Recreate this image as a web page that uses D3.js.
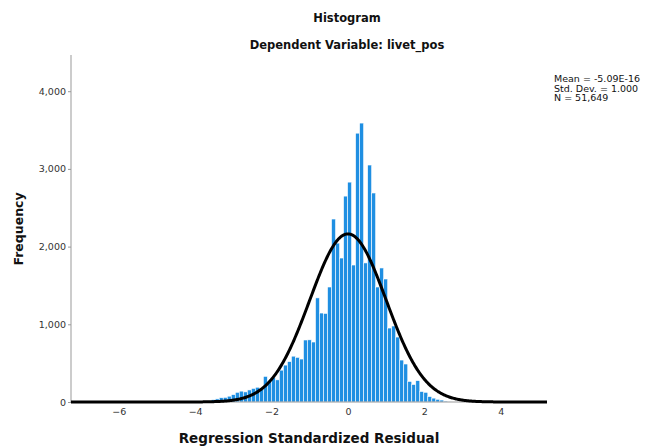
<!DOCTYPE html>
<html><head><meta charset="utf-8">
<script src="https://cdn.jsdelivr.net/npm/d3@7"></script>
<style>body{margin:0;background:#fff}svg{display:block}</style>
</head><body><svg id="c" width="647" height="448"></svg>
<script>
// ---- data ----
const binStart = -3.58;
const binWidth = 0.105;
const counts = [30,40,55,60,75,95,125,140,130,155,175,190,160,330,280,315,285,410,475,520,590,575,553,798,800,772,1340,1145,1140,1480,2355,2045,1853,2650,2830,1763,3460,3590,1790,3050,2690,1480,1725,1583,952,978,836,540,489,265,225,275,135,125,70,50,35,25,12,6];
const xTicks = [-6,-4,-2,0,2,4];
const yTicks = [0,1000,2000,3000,4000];
const fitMean = -5.09e-16, fitSD = 1.0, fitN = 51649;
const legendLines = ["Mean = -5.09E-16","Std. Dev. = 1.000","N = 51,649"];
const titles = ["Histogram","Dependent Variable: livet_pos"];
const xLabel = "Regression Standardized Residual";
const yLabel = "Frequency";

// ---- layout ----
const svg = d3.select("#c");
const L=71,R=547,T=55,B=402;
const x = d3.scaleLinear().domain([-7.25,5.21]).range([L,R]);
const y = d3.scaleLinear().domain([0,4466]).range([B,T]);
const font = "'DejaVu Sans', 'Liberation Sans', sans-serif";

const bins = counts.map((c,i)=>({x0: binStart+i*binWidth, x1: binStart+(i+1)*binWidth, c}));
svg.append("g").selectAll("rect").data(bins).join("rect")
  .attr("x", d=>x(d.x0)).attr("width", d=>x(d.x1)-x(d.x0))
  .attr("y", d=>y(d.c)).attr("height", d=>y(0)-y(d.c))
  .attr("fill","#1f8fe2").attr("stroke","#fff").attr("stroke-width",0.6);

// axes
const yAxis = d3.axisLeft(y).tickValues(yTicks).tickSize(3).tickFormat(d3.format(","));
const gy = svg.append("g").attr("transform",`translate(${L},0)`).call(yAxis);
gy.select(".domain").attr("stroke","#999").attr("d",`M0,${T}V${B}`);
gy.selectAll(".tick line").attr("stroke","#999");
gy.selectAll(".tick text").attr("font-family",font).attr("font-size",9.5).attr("fill","#333").attr("x",-5);

const xAxis = d3.axisBottom(x).tickValues(xTicks).tickSize(0).tickFormat(d3.format("d"));
const gx = svg.append("g").attr("transform",`translate(0,${B})`).call(xAxis);
gx.select(".domain").attr("stroke","#999").attr("d",`M${L},0H${R}`);
gx.selectAll(".tick text").attr("font-family",font).attr("font-size",9.5).attr("fill","#333").attr("dy","1.05em")
  .text(d=> d<0 ? "\u2212"+Math.abs(d) : d);

// normal curve
const pdf = v => Math.exp(-0.5*((v-fitMean)/fitSD)**2)/(fitSD*Math.sqrt(2*Math.PI));
const pts = d3.range(x.domain()[0], x.domain()[1]+0.001, 0.02);
svg.append("path").datum(pts)
  .attr("d", d3.line().x(v=>x(v)).y(v=>y(fitN*binWidth*pdf(v))))
  .attr("fill","none").attr("stroke","#000").attr("stroke-width",3);

// titles
svg.append("text").attr("x",347).attr("y",22).attr("text-anchor","middle")
  .attr("font-family",font).attr("font-weight","bold").attr("font-size",11.5).attr("fill","#111").text(titles[0]);
svg.append("text").attr("x",347).attr("y",49).attr("text-anchor","middle")
  .attr("font-family",font).attr("font-weight","bold").attr("font-size",11.5).attr("fill","#111").text(titles[1]);
svg.append("text").attr("x",309).attr("y",443).attr("text-anchor","middle")
  .attr("font-family",font).attr("font-weight","bold").attr("font-size",13.5).attr("fill","#111").text(xLabel);
svg.append("text").attr("transform","translate(23,229) rotate(-90)").attr("text-anchor","middle")
  .attr("font-family",font).attr("font-weight","bold").attr("font-size",12.5).attr("fill","#111").text(yLabel);

// legend
svg.append("g").selectAll("text").data(legendLines).join("text")
  .attr("x",554).attr("y",(d,i)=>82+i*9.5)
  .attr("font-family",font).attr("font-size",9.5).attr("fill","#111").text(d=>d);
</script></body></html>
